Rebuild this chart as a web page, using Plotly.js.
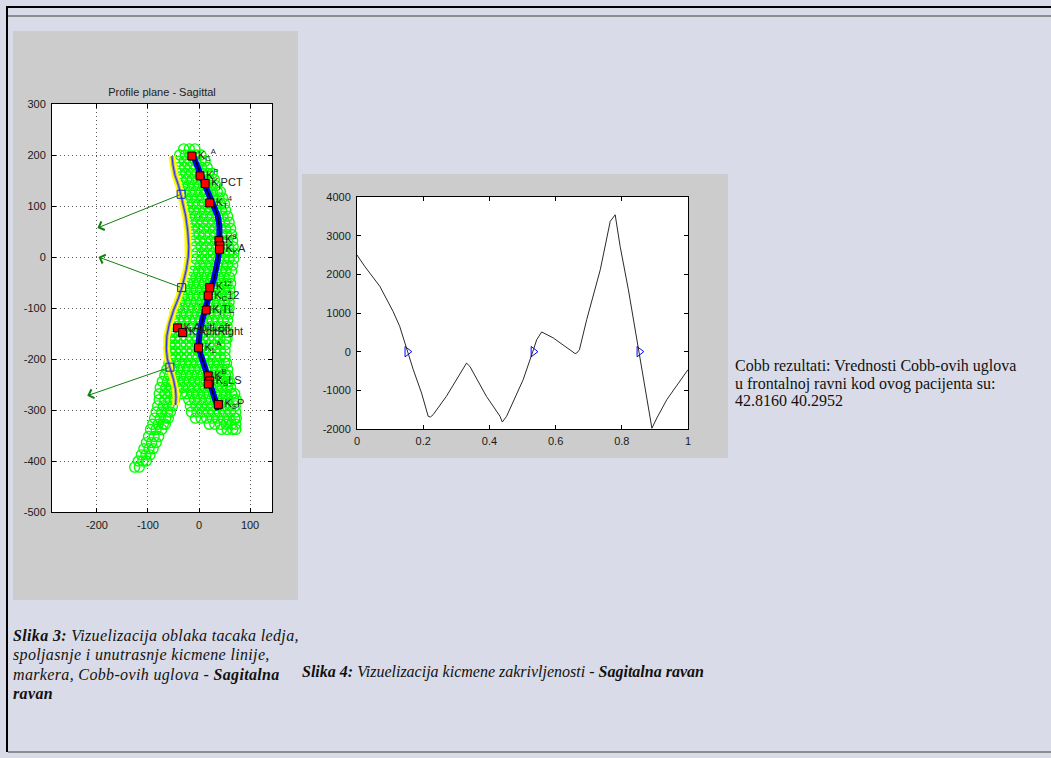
<!DOCTYPE html>
<html><head><meta charset="utf-8">
<script src="https://cdn.plot.ly/plotly-3.0.1.min.js"></script>
<style>
html,body{margin:0;padding:0;width:1051px;height:758px;overflow:hidden;background:#d9dce8;}
#page{position:relative;width:1051px;height:758px;}
.bl{position:absolute;}
.txt{font-family:"Liberation Serif","Times New Roman",serif;color:#111;white-space:nowrap;}
.cob{font-size:16px;line-height:17.5px;}
.cap{font-size:16px;line-height:19.3px;font-style:italic;}
.cap1{letter-spacing:0.35px;}
.cap b{font-weight:bold;}
</style></head><body>
<div id="page">
<div class="bl" style="left:6px;top:6px;width:1045px;height:2px;background:#000"></div>
<div class="bl" style="left:6px;top:6px;width:2px;height:746px;background:#000"></div>
<div class="bl" style="left:8px;top:15px;width:1043px;height:2px;background:#8c8c8c"></div>
<div class="bl" style="left:8px;top:751px;width:1043px;height:2px;background:#8c8c8c"></div>
<div id="sag" class="bl" style="left:13px;top:31px;width:285px;height:569px;"></div>
<div id="curv" class="bl" style="left:302px;top:174px;width:426px;height:284px;"></div>
<div class="bl txt cob" style="left:735px;top:357px;">Cobb rezultati: Vrednosti Cobb-ovih uglova<br>u frontalnoj ravni kod ovog pacijenta su:<br>42.8160 40.2952</div>
<div class="bl txt cap cap1" style="left:13px;top:626px;"><b>Slika 3:</b> Vizuelizacija oblaka tacaka ledja,<br>spoljasnje i unutrasnje kicmene linije,<br>markera, Cobb-ovih uglova - <b>Sagitalna<br>ravan</b></div>
<div class="bl txt cap" style="left:302px;top:662px;"><b>Slika 4:</b> Vizuelizacija kicmene zakrivljenosti - <b>Sagitalna ravan</b></div>
</div>
<script>
// ---------- Sagittal profile (left figure) ----------
const cloudRows = [
 [212, [-30,-19,-8]],
 [200, [-38,-27,-16,-5,4]],
 [188, [-40,-29,-18,-7,4,12]],
 [176, [-39,-28,-17,-6,5,16]],
 [164, [-37,-26,-15,-4,7,18,26]],
 [152, [-35,-24,-13,-2,9,20,30]],
 [140, [-32,-21,-10,1,12,23,33]],
 [128, [-29,-18,-7,4,15,26,36,42]],
 [116, [-26,-15,-4,7,18,29,39,46]],
 [104, [-23,-12,-1,10,21,32,42,50]],
 [92, [-21,-10,1,12,23,34,44,52]],
 [80, [-18,-7,4,15,26,37,47,56]],
 [68, [-15,-4,7,18,29,40,50,59]],
 [56, [-13,-2,9,20,31,42,52,62]],
 [44, [-11,0,11,22,33,44,54,64]],
 [32, [-9,2,13,24,35,46,56,66]],
 [20, [-7,4,15,26,37,48,58,67]],
 [8, [-5,6,17,28,39,50,60,68]],
 [-4, [-6,5,16,27,38,49,59,68]],
 [-16, [-9,2,13,24,35,46,56,66]],
 [-28, [-12,-1,10,21,32,43,53,64]],
 [-40, [-17,-6,5,16,27,38,49,60]],
 [-52, [-22,-11,0,11,22,33,44,55,62]],
 [-64, [-27,-16,-5,6,17,28,39,50,60]],
 [-76, [-33,-22,-11,0,11,22,33,44,55,60]],
 [-88, [-38,-27,-16,-5,6,17,28,39,50,59]],
 [-100, [-43,-32,-21,-10,1,12,23,34,45,55,59]],
 [-112, [-47,-36,-25,-14,-3,8,19,30,41,52,58]],
 [-124, [-50,-40,-29,-18,-7,4,15,26,37,48,56]],
 [-136, [-53,-43,-32,-21,-10,1,12,23,34,45,55]],
 [-148, [-56,-46,-35,-24,-13,-2,9,20,31,42,53,57]],
 [-160, [-57,-47,-36,-25,-14,-3,8,19,30,41,52,55]],
 [-172, [-57,-47,-36,-25,-14,-3,8,19,30,41,52]],
 [-184, [-56,-46,-35,-24,-13,-2,9,20,31,42,51]],
 [-196, [-56,-46,-35,-24,-13,-2,9,20,31,42,51]],
 [-208, [-59,-49,-38,-27,-16,-5,6,17,28,39,50,54]],
 [-220, [-63,-53,-42,-31,-20,-9,2,13,24,35,46,56]],
 [-232, [-67,-58,-47,-36,-25,-14,-3,8,19,30,41,52,57]],
 [-244, [-72,-62,-52,-41,-30,-19,-8,3,14,25,36,47,56,60]],
 [-256, [-76,-65,-54,-43,-32,-21,-10,1,12,23,34,45,56,62]],
 [-268, [-78,-67,-56,-45,-34,-24,-13,-2,9,20,31,42,53,64,70]],
 [-280, [-78,-67,-56,-48,-20,-9,2,13,24,35,46,57,68,73]],
 [-292, [-81,-70,-59,-52,-17,-6,5,16,27,38,49,60,71]],
 [-304, [-84,-73,-62,-56,-15,-4,7,18,29,40,51,62,72]],
 [-316, [-87,-76,-65,-60,-7,4,15,26,37,48,59,70,73]],
 [-328, [-91,-80,-70,-66,20,31,42,53,64,72]],
 [-338, [-95,-84,-73,44,55,66,72]],
 [-352, [-99,-88,-79]],
 [-364, [-103,-93,-84]],
 [-376, [-108,-98,-90]],
 [-388, [-113,-104,-96]],
 [-400, [-119,-110,-103]],
 [-412, [-126,-117]]
];
const outerX = [-53,-51,-47,-40,-35,-30,-26,-22,-20,-21,-25,-32,-40,-50,-58,-63,-64,-62,-56,-50,-46,-45,-46];
const outerY = [198,180,160,140,120,100,80,50,20,0,-25,-55,-80,-105,-130,-155,-180,-200,-220,-240,-260,-275,-290];
const spineX = [-12,-5,2,10,20,30,37,40,41,40,38,35,30,24,18,12,6,1,-1,3,10,17,22,28,35,38];
const spineY = [200,185,165,145,120,100,80,60,40,20,0,-20,-40,-60,-80,-100,-125,-150,-172,-190,-210,-230,-250,-270,-290,-300];
const markerX = [-14,2,12,21,39,41,40,21,18,14,-42,-32,-1,18,21,18,38];
const markerY = [198,159,144,106,32,22,15,-60,-76,-104,-139,-148,-178,-233,-243,-249,-289];
const markerLabels = ["K<sub>C</sub><sup>A</sup>","K<sup>P</sup>","K<sub>I</sub>PCT","K<sub>T</sub><sup>4</sup>","K<sup>8</sup>"," ","K<sub>K</sub>A","K<sup>12</sup>","K<sub>C</sub>12","K<sub>I</sub>TL","K ApitLeft","K ApitRight","K<sub>L</sub><sup>A</sup>","K<sup>B</sup>","K<sub>S</sub>LS"," ","K<sub>S</sub>P"];
const cobbX = [-35,-34,-57];
const cobbY = [123,-60,-216];
const arrowTipX = [-199,-197,-219];
const arrowTipY = [57,0,-272];
const sagXTicks = [-200,-100,0,100];
const sagXTickText = ["-200","-100","0","100"];
const sagYTicks = [300,200,100,0,-100,-200,-300,-400,-500];
const sagYTickText = ["300","200","100","0","-100","-200","-300","-400","-500"];

// ---------- Curvature (right figure) ----------
const curvX = [0,0.023,0.069,0.109,0.129,0.147,0.17,0.195,0.215,0.222,0.23,0.27,0.331,0.341,0.391,0.432,0.439,0.452,0.502,0.533,0.543,0.558,0.593,0.659,0.664,0.672,0.694,0.735,0.765,0.78,0.795,0.82,0.846,0.871,0.891,0.906,0.936,1.0];
const curvY = [2500,2210,1690,1040,655,140,-465,-1070,-1670,-1690,-1630,-1155,-295,-380,-1155,-1670,-1820,-1670,-725,50,310,510,355,-50,-35,50,830,2120,3370,3540,2720,1600,310,-900,-1980,-1715,-1240,-465];
const crossX = [0.152,0.533,0.853];
const crossY = [0,0,0];
const curvXTicks = [0,0.2,0.4,0.6,0.8,1];
const curvXTickText = ["0","0.2","0.4","0.6","0.8","1"];
const curvYTicks = [-2000,-1000,0,1000,2000,3000,4000];
const curvYTickText = ["-2000","-1000","0","1000","2000","3000","4000"];

const cloudX = [], cloudY = [];
cloudRows.forEach(r => r[1].forEach(x => { cloudX.push(x); cloudY.push(r[0]); }));

const tickFont = {family:'"Liberation Sans", Arial, sans-serif', size:11, color:'#1a1a1a'};

const sagTraces = [
  {x:cloudX, y:cloudY, type:'scatter', mode:'markers', marker:{symbol:'circle-open', size:10, color:'#00ff00', line:{width:1.4, color:'#00ff00'}}, hoverinfo:'skip'},
  {x:outerX, y:outerY, type:'scatter', mode:'lines', line:{color:'#ffff00', width:7}},
  {x:outerX, y:outerY, type:'scatter', mode:'lines', line:{color:'#9a9a9a', width:3}},
  {x:outerX, y:outerY, type:'scatter', mode:'lines', line:{color:'#2a2aff', width:1}},
  {x:spineX, y:spineY, type:'scatter', mode:'lines', line:{color:'#0000ff', width:6}},
  {x:spineX, y:spineY, type:'scatter', mode:'lines', line:{color:'#000000', width:1.5}},
  {x:markerX, y:markerY, type:'scatter', mode:'markers+text', text:markerLabels, textposition:'middle right',
   textfont:{family:'"Liberation Sans", Arial, sans-serif', size:11, color:'#222'},
   marker:{symbol:'square', size:8, color:'#ff0000', line:{width:1, color:'#000'}}},
  {x:cobbX, y:cobbY, type:'scatter', mode:'markers', marker:{symbol:'square-open', size:8, color:'#2020e0', line:{width:1, color:'#2020e0'}}}
];

const arrows = arrowTipX.map((tx,i) => ({
  x:tx, y:arrowTipY[i], ax:cobbX[i], ay:cobbY[i], xref:'x', yref:'y', axref:'x', ayref:'y',
  text:'', showarrow:true, arrowhead:4, arrowsize:1.8, arrowwidth:1, arrowcolor:'#108010', standoff:0, startstandoff:0
}));

const sagLayout = {
  width:285, height:569, margin:{l:39, r:26, t:73, b:88, pad:0},
  paper_bgcolor:'#cccccc', plot_bgcolor:'#ffffff', showlegend:false,
  title:{text:'Profile plane - Sagittal', font:{family:'"Liberation Sans", Arial, sans-serif', size:11, color:'#222'}, x:0.5, xref:'paper', xanchor:'center', y:0.8933, yref:'container', yanchor:'middle'},
  xaxis:{range:[-288,143], tickvals:sagXTicks, ticktext:sagXTickText, ticks:'inside', ticklen:4, tickcolor:'#000', showline:true, linecolor:'#000', linewidth:1, mirror:'ticks',
         showgrid:true, gridcolor:'#555', griddash:'1px,3px', gridwidth:1, zeroline:false, tickfont:tickFont, ticklabelstandoff:3},
  yaxis:{range:[-500,300], tickvals:sagYTicks, ticktext:sagYTickText, ticks:'inside', ticklen:4, tickcolor:'#000', showline:true, linecolor:'#000', linewidth:1, mirror:'ticks',
         showgrid:true, gridcolor:'#555', griddash:'1px,3px', gridwidth:1, zeroline:false, tickfont:tickFont, ticklabelstandoff:3},
  annotations:arrows
};

const curvTraces = [
  {x:curvX, y:curvY, type:'scatter', mode:'lines', line:{color:'#2a2a2a', width:1}},
  {x:crossX, y:crossY, type:'scatter', mode:'markers', marker:{symbol:'triangle-right-open', size:9, color:'#0000ff', line:{width:1, color:'#0000ff'}}}
];
const curvLayout = {
  width:426, height:284, margin:{l:55, r:40, t:23, b:29, pad:0},
  paper_bgcolor:'#cccccc', plot_bgcolor:'#ffffff', showlegend:false,
  xaxis:{range:[0,1], tickvals:curvXTicks, ticktext:curvXTickText, ticks:'inside', ticklen:4, tickcolor:'#000', showline:true, linecolor:'#000', linewidth:1, mirror:'ticks',
         showgrid:false, zeroline:false, tickfont:tickFont, ticklabelstandoff:2},
  yaxis:{range:[-2000,4000], tickvals:curvYTicks, ticktext:curvYTickText, ticks:'inside', ticklen:4, tickcolor:'#000', showline:true, linecolor:'#000', linewidth:1, mirror:'ticks',
         showgrid:false, zeroline:false, tickfont:tickFont, ticklabelstandoff:3}
};

const cfg = {staticPlot:true, displayModeBar:false, responsive:false};
Plotly.newPlot('sag', sagTraces, sagLayout, cfg);
Plotly.newPlot('curv', curvTraces, curvLayout, cfg);
</script>
</body></html>
